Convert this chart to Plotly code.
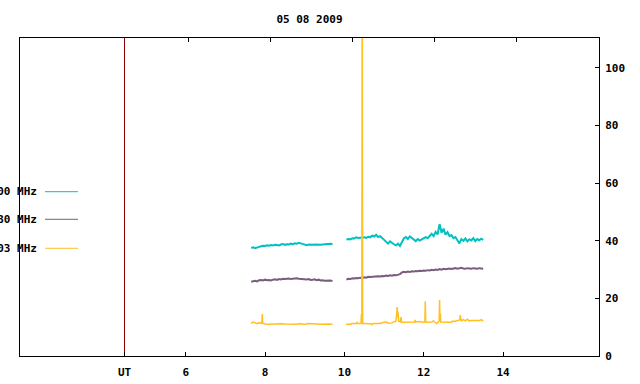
import plotly.graph_objects as go

TITLE = "05 08 2009"
SERIES_NAMES = ["1000 MHz", "2230 MHz", "1003 MHz"]
COLORS = ["#00c0c0", "#7a5c7e", "#ffc020"]
UT_HOUR = 4.455

X_TICKS = [4.455, 6, 8, 10, 12, 14]
X_TICK_TEXT = ["UT", "6", "8", "10", "12", "14"]
TOP_TICKS = [6.066, 8.133, 10.201, 12.268, 14.336]
Y_TICKS = [0, 20, 40, 60, 80, 100]

# first observing block (hours UT)
t1 = [7.65, 7.70, 7.75, 7.80, 7.85, 7.90, 7.95, 8.00, 8.05, 8.10, 8.15, 8.20, 8.25, 8.30,
      8.35, 8.40, 8.45, 8.50, 8.55, 8.60, 8.65, 8.70, 8.75, 8.80, 8.85, 8.90, 8.95, 9.00,
      9.05, 9.10, 9.15, 9.20, 9.25, 9.30, 9.35, 9.40, 9.45, 9.50, 9.55, 9.60, 9.65, 9.70]
cyan1 = [37.5, 37.7, 37.4, 37.8, 37.9, 38.1, 38.3, 38.2, 38.4, 38.3, 38.5, 38.4, 38.6, 38.5,
         38.4, 38.7, 38.9, 38.6, 38.8, 38.7, 39.0, 38.8, 39.1, 39.0, 39.3, 39.1, 38.9, 38.6,
         38.5, 38.7, 38.6, 38.6, 38.7, 38.6, 38.7, 38.6, 38.7, 38.8, 38.7, 38.9, 39.0, 38.9]
purple1 = [25.8, 26.0, 26.1, 25.9, 26.3, 26.4, 26.2, 26.5, 26.3, 26.4, 26.2, 26.5, 26.6, 26.4,
           26.7, 26.6, 26.8, 26.7, 26.8, 26.9, 26.7, 26.8, 26.9, 27.0, 26.8, 26.7, 26.6, 26.5,
           26.6, 26.7, 26.4, 26.5, 26.6, 26.3, 26.5, 26.2, 26.3, 26.1, 26.2, 26.1, 26.2, 26.0]

# second observing block
t2 = [10.05, 10.10, 10.15, 10.20, 10.25, 10.30, 10.35, 10.40, 10.45, 10.50,
      10.55, 10.60, 10.65, 10.70, 10.75, 10.80, 10.85, 10.90, 10.95, 11.00,
      11.05, 11.10, 11.15, 11.20, 11.25, 11.30, 11.35, 11.40, 11.45, 11.50,
      11.55, 11.60, 11.65, 11.70, 11.75, 11.80, 11.85, 11.90, 11.95, 12.00,
      12.05, 12.10, 12.15, 12.20, 12.25, 12.30, 12.35, 12.40, 12.45, 12.50,
      12.55, 12.60, 12.65, 12.70, 12.75, 12.80, 12.85, 12.90, 12.95, 13.00,
      13.05, 13.10, 13.15, 13.20, 13.25, 13.30, 13.35, 13.40, 13.45, 13.50]
cyan2 = [40.4, 40.6, 40.5, 40.9, 40.8, 41.2, 41.0, 41.1, 41.3, 41.2,
         41.0, 41.4, 41.2, 41.8, 41.5, 42.1, 41.3, 41.6, 41.0, 40.3,
         39.4, 39.0, 39.8, 39.2, 38.8, 38.4, 39.0, 38.2, 39.6, 40.8,
         41.3, 40.6, 41.5, 40.9, 40.4, 39.9, 40.6, 40.1, 40.5, 40.8,
         41.3, 40.9, 41.8, 42.4, 41.6, 43.1, 42.2, 45.8, 42.8, 44.2,
         42.1, 43.0, 41.6, 42.0, 40.9, 41.3, 40.2, 39.1, 40.6, 40.0,
         40.8, 39.8, 40.5, 40.1, 40.9, 39.9, 40.6, 40.2, 40.7, 40.3]
purple2 = [26.5, 26.8, 26.7, 27.0, 26.9, 27.1, 27.0, 27.2, 27.1, 27.3,
           27.2, 27.5, 27.4, 27.5, 27.6, 27.5, 27.7, 27.6, 27.8, 27.7,
           27.9, 27.8, 28.0, 27.9, 28.1, 28.0, 28.3, 28.4, 29.0, 29.2,
           29.1, 29.3, 29.2, 29.4, 29.3, 29.5, 29.4, 29.6, 29.5, 29.7,
           29.6, 29.8, 29.7, 29.9, 29.8, 30.0, 29.9, 30.2, 30.0, 30.3,
           30.1, 30.2, 30.4, 30.2, 30.3, 30.5, 30.3, 30.4, 30.6, 30.4,
           30.3, 30.5, 30.4, 30.3, 30.5, 30.4, 30.3, 30.5, 30.4, 30.3]

# low-frequency channel, with its own sample times around the bursts
ot1 = [7.65, 7.70, 7.75, 7.80, 7.85, 7.90, 7.92, 7.93, 7.94, 8.00, 8.10, 8.20, 8.30, 8.40,
       8.50, 8.60, 8.70, 8.80, 8.85, 8.90, 9.00, 9.10, 9.20, 9.30, 9.40, 9.50, 9.60, 9.70]
orange1 = [11.3, 11.8, 11.5, 11.2, 11.6, 11.3, 12.0, 14.6, 11.4, 11.1, 11.0, 11.1, 11.0, 11.2,
           11.1, 11.0, 11.1, 11.0, 11.2, 11.1, 11.0, 11.3, 11.3, 11.1, 11.0, 11.1, 11.1, 11.0]
ot2 = [10.04, 10.10, 10.16, 10.18, 10.25, 10.31, 10.32, 10.33, 10.40, 10.42, 10.43, 10.44,
       10.45, 10.46, 10.50, 10.60, 10.66, 10.70, 10.72, 10.80, 10.90, 11.00, 11.08, 11.10,
       11.20, 11.27, 11.30, 11.32, 11.33, 11.34, 11.35, 11.37, 11.41, 11.43, 11.44, 11.50,
       11.60, 11.70, 11.77, 11.78, 11.80, 11.88, 11.95, 12.00, 12.03, 12.04, 12.05, 12.10,
       12.20, 12.24, 12.28, 12.33, 12.36, 12.39, 12.40, 12.41, 12.42, 12.43, 12.50, 12.60,
       12.70, 12.72, 12.80, 12.87, 12.91, 12.92, 12.93, 12.95, 13.00, 13.05, 13.10, 13.15,
       13.20, 13.30, 13.40, 13.45, 13.50]
orange2 = [11.0, 11.0, 11.0, 11.3, 11.3, 11.3, 11.8, 11.3, 11.3, 11.4, 14.6, 11.3,
           130.0, 11.3, 11.3, 11.3, 11.2, 10.9, 11.3, 11.3, 11.3, 11.7, 11.7, 11.4,
           11.5, 12.0, 12.1, 15.0, 17.0, 13.5, 15.3, 12.0, 11.9, 13.5, 11.7, 11.7,
           11.7, 11.7, 11.8, 12.5, 11.8, 12.0, 11.7, 11.7, 11.8, 19.0, 11.8, 11.7,
           11.8, 12.2, 11.8, 11.2, 11.7, 12.2, 19.4, 12.5, 14.7, 11.8, 11.7, 11.7,
           11.7, 12.1, 12.1, 12.2, 12.5, 14.2, 13.3, 12.2, 12.6, 12.2, 12.8, 12.2,
           12.3, 12.2, 12.3, 12.6, 12.1]

Y_MAX = 110.4
X_RANGE = [1.82, 16.42]
LINE_WIDTHS = [2, 2, 1.5]

FONT = dict(family="DejaVu Sans Mono", size=11, color="black", weight="bold")

fig = go.Figure()

# UT marker line
fig.add_trace(go.Scatter(x=[UT_HOUR, UT_HOUR], y=[0, Y_MAX], mode="lines",
                         line=dict(color="#8b0000", width=1), hoverinfo="skip"))

blocks = [
    (t1, cyan1, t2, cyan2),
    (t1, purple1, t2, purple2),
    (ot1, orange1, ot2, orange2),
]
for (ta, va, tb, vb), col, lw in zip(blocks, COLORS, LINE_WIDTHS):
    assert len(ta) == len(va) and len(tb) == len(vb)
    fig.add_trace(go.Scatter(x=ta, y=va, mode="lines", line=dict(color=col, width=lw)))
    fig.add_trace(go.Scatter(x=tb, y=vb, mode="lines", line=dict(color=col, width=lw)))

# dummy trace to keep top axis alive
fig.add_trace(go.Scatter(x=[X_RANGE[0]], y=[0], xaxis="x2", mode="markers",
                         marker=dict(opacity=0), hoverinfo="skip"))

# gnuplot-style key inside the plot, left side
key_y = [0.5167, 0.4299, 0.3387]
for name, col, ky in zip(SERIES_NAMES, COLORS, key_y):
    fig.add_shape(type="line", xref="paper", yref="paper", x0=0.0432, x1=0.1002,
                  y0=ky, y1=ky, line=dict(color=col, width=1))
    fig.add_annotation(xref="paper", yref="paper", x=0.032, y=ky, text=name,
                       showarrow=False, xanchor="right", yanchor="middle", font=FONT)

fig.update_layout(
    width=640, height=384,
    margin=dict(l=20, r=41, t=38, b=28),
    paper_bgcolor="white", plot_bgcolor="white",
    showlegend=False,
    title=dict(text=TITLE, x=0.5, xref="paper", y=1 - 19 / 384, yanchor="middle",
               font=dict(family="DejaVu Sans Mono", size=11, color="black", weight="bold")),
    xaxis=dict(range=X_RANGE, tickvals=X_TICKS, ticktext=X_TICK_TEXT, ticks="inside",
               ticklen=4, tickcolor="black", showline=True, linecolor="black", linewidth=1,
               mirror=True, showgrid=False, zeroline=False, tickfont=FONT,
               ticklabelstandoff=6, automargin=False),
    xaxis2=dict(range=X_RANGE, overlaying="x", side="top", tickvals=TOP_TICKS,
                ticks="inside", ticklen=4, tickcolor="black", showticklabels=False,
                showline=False, showgrid=False, zeroline=False, automargin=False),
    yaxis=dict(range=[0, Y_MAX], side="right", tickvals=Y_TICKS, ticks="inside",
               ticklen=4, tickcolor="black", showline=True, linecolor="black", linewidth=1,
               mirror=True, showgrid=False, zeroline=False, tickfont=FONT,
               ticklabelstandoff=3, automargin=False),
)

fig.write_html("out.html", config={"displayModeBar": False},
               post_script="document.body.style.margin='0';document.body.style.overflow='hidden';")
